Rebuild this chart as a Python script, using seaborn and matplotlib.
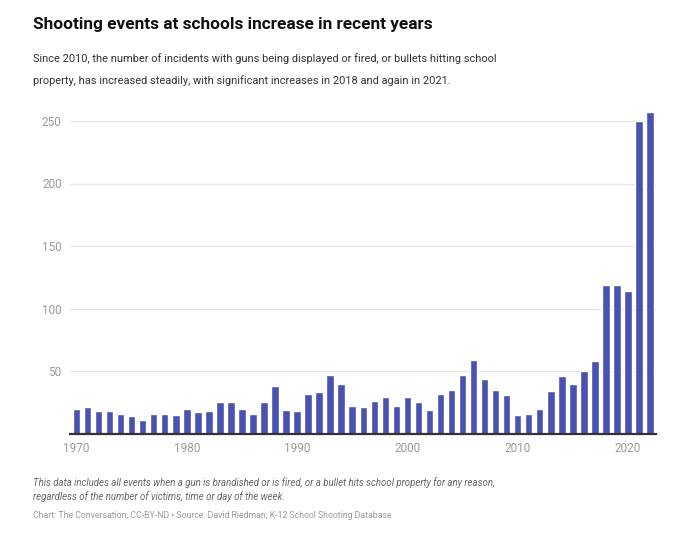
import numpy as np
import pandas as pd
import matplotlib
matplotlib.use("Agg")
import matplotlib.pyplot as plt
import seaborn as sns

# Veriler
years = list(range(1970, 2023))
events = [20, 21, 18, 18, 16, 14, 11, 16, 16, 15,
          20, 17, 18, 25, 25, 20, 16, 25, 38, 19,
          18, 32, 33, 47, 40, 22, 21, 26, 29, 22,
          29, 25, 19, 32, 35, 47, 59, 44, 35, 31,
          15, 16, 20, 34, 46, 40, 50, 58, 119, 119,
          114, 250, 257]
y_ticks = [50, 100, 150, 200, 250]
x_ticks = [1970, 1980, 1990, 2000, 2010, 2020]

title = "Shooting events at schools increase in recent years"
subtitle = ["Since 2010, the number of incidents with guns being displayed or fired, or bullets hitting school",
            "property, has increased steadily, with significant increases in 2018 and again in 2021."]
note = ["This data includes all events when a gun is brandished or is fired, or a bullet hits school property for any reason,",
        "regardless of the number of victims, time or day of the week."]
source = "Chart: The Conversation, CC-BY-ND \u2022 Source: David Riedman, K-12 School Shooting Database"

df = pd.DataFrame({"year": years, "events": events})

sns.set_theme(style="white")
plt.rcParams['font.family'] = ['Roboto', 'DejaVu Sans']

fig = plt.figure(figsize=(7, 5.44), dpi=100)
ax = fig.add_axes([70 / 700, 1 - 433.5 / 544, 586 / 700, 325 / 544])

sns.barplot(data=df, x="year", y="events", native_scale=True, color="#4a52b0",
            saturation=1, width=0.68, ax=ax, zorder=2)

ax.set_xlim(1969.41, 2022.54)
ax.set_ylim(0, 260)
ax.set_yticks(y_ticks)
ax.set_xticks(x_ticks)
ax.set_xticklabels([str(x) for x in x_ticks])
ax.yaxis.grid(True, color="#e6e6e6", linewidth=0.9, zorder=0)
ax.xaxis.grid(False)
ax.set_xlabel("")
ax.set_ylabel("")
for s in ["top", "right", "left"]:
    ax.spines[s].set_visible(False)
ax.spines["bottom"].set_color("#333333")
ax.spines["bottom"].set_linewidth(1.6)
ax.tick_params(axis="both", length=0, labelsize=8.5, colors="#9a9a9a")
ax.tick_params(axis="y", pad=6)
ax.tick_params(axis="x", pad=6)

# Başlık ve açıklamalar
fig.text(33 / 700, 1 - 25 / 544, title, fontsize=12.4, fontweight="bold",
         color="#111111", va="center", ha="left")
for i, line in enumerate(subtitle):
    fig.text(33 / 700, 1 - (59 + 22 * i) / 544, line, fontsize=7.9, color="#333333",
             va="center", ha="left")
for i, line in enumerate(note):
    fig.text(33 / 700, 1 - (483 + 14 * i) / 544, line, fontsize=6.9, color="#666666",
             style="italic", va="center", ha="left")
fig.text(33 / 700, 1 - 515 / 544, source, fontsize=6.3, color="#9a9a9a",
         va="center", ha="left")

fig.savefig("out.png", dpi=100)
